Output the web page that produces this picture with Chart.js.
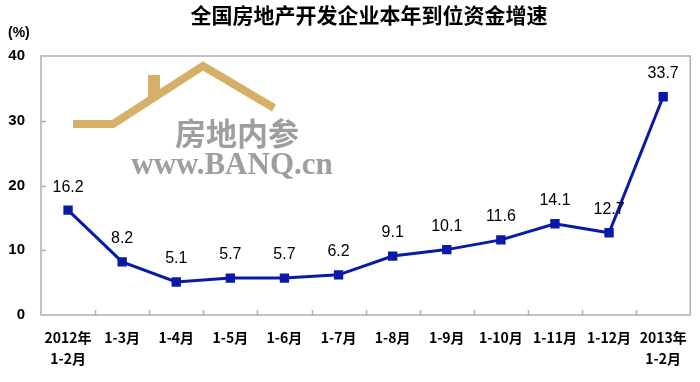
<!DOCTYPE html>
<html>
<head>
<meta charset="utf-8">
<script src="https://cdn.jsdelivr.net/npm/chart.js@4"></script>
<style>
  body { margin: 0; background: #fff; }
  #wrap { width: 700px; height: 382px; }
</style>
</head>
<body>
<div id="wrap"><canvas id="myChart" width="700" height="382"></canvas></div>
<script>
// data
var labels = [["2012年", "1-2月"], "1-3月", "1-4月", "1-5月", "1-6月", "1-7月", "1-8月", "1-9月", "1-10月", "1-11月", "1-12月", ["2013年", "1-2月"]];
var growth = [16.2, 8.2, 5.1, 5.7, 5.7, 6.2, 9.1, 10.1, 11.6, 14.1, 12.7, 33.7];
var yTicks = [0, 10, 20, 30, 40];
var titleText = "全国房地产开发企业本年到位资金增速";
var unitText = "(%)";

var cjk = '"Noto Sans CJK SC", "Liberation Sans", sans-serif';
var lineColor = '#0a1aa8';

// frame, inside tick marks, title, watermark and value labels
var extras = {
    id: 'extras',
    beforeDatasetsDraw: function(chart) {
        let ctx = chart.ctx;
        let a = chart.chartArea;
        ctx.save();
        // watermark roof
        ctx.strokeStyle = '#d6b068';
        ctx.lineWidth = 8;
        ctx.lineJoin = 'miter';
        ctx.beginPath();
        ctx.moveTo(73, 124);
        ctx.lineTo(113, 124);
        ctx.lineTo(203, 66);
        ctx.lineTo(274, 108);
        ctx.stroke();
        ctx.fillStyle = '#d6b068';
        ctx.fillRect(148, 75, 12, 22);
        // watermark text
        ctx.fillStyle = '#9e9e9e';
        ctx.textAlign = 'center';
        ctx.textBaseline = 'middle';
        ctx.font = 'bold 31px "Noto Sans CJK SC"';
        ctx.fillText("房地内参", 237, 133);
        ctx.font = 'bold 31px "Liberation Serif"';
        ctx.fillText("www.BANQ.cn", 232, 166);

        // frame
        ctx.strokeStyle = '#b0b0b0';
        ctx.lineWidth = 1.5;
        ctx.strokeRect(a.left, a.top, a.right - a.left, a.bottom - a.top);
        // inside tick marks
        let x = chart.scales.x;
        let y = chart.scales.y;
        let w = (a.right - a.left) / labels.length;
        ctx.beginPath();
        for (let i = 1; i < labels.length; i++) {
            let px = Math.round(x.getPixelForValue(i) - w / 2) + 0.5;
            ctx.moveTo(px, a.bottom);
            ctx.lineTo(px, a.bottom - 5);
        }
        for (let i = 1; i < yTicks.length - 1; i++) {
            let py = Math.round(y.getPixelForValue(yTicks[i])) + 0.5;
            ctx.moveTo(a.left, py);
            ctx.lineTo(a.left + 5, py);
        }
        ctx.stroke();

        // title and unit
        ctx.fillStyle = '#000';
        ctx.textAlign = 'center';
        ctx.font = 'bold 21px ' + cjk;
        ctx.fillText(titleText, 369, 15);
        ctx.textAlign = 'left';
        ctx.font = 'bold 14px "Liberation Sans"';
        ctx.fillText(unitText, 8, 33);
        ctx.restore();
    },
    afterDatasetsDraw: function(chart) {
        let ctx = chart.ctx;
        let meta = chart.getDatasetMeta(0);
        ctx.save();
        ctx.fillStyle = '#000';
        ctx.font = '16px "Liberation Sans"';
        ctx.textAlign = 'center';
        ctx.textBaseline = 'middle';
        meta.data.forEach(function(pt, i) {
            ctx.fillText(growth[i].toFixed(1), pt.x, pt.y - 23);
        });
        ctx.restore();
    }
};

let ctx = document.getElementById('myChart').getContext('2d');
let chart = new Chart(ctx, {
    type: 'line',
    data: {
        labels: labels,
        datasets: [{
            data: growth,
            borderColor: lineColor,
            backgroundColor: lineColor,
            borderWidth: 3,
            pointStyle: 'rect',
            pointRadius: 4.5,
            pointHoverRadius: 4.5,
            tension: 0
        }]
    },
    options: {
        responsive: false,
        animation: false,
        layout: { padding: { top: 56, right: 7, left: 8, bottom: 0 } },
        plugins: {
            legend: { display: false },
            tooltip: { enabled: false }
        },
        scales: {
            x: {
                offset: true,
                afterFit: function(axis) {
                    axis.height = 67;
                },
                grid: { display: false, drawTicks: false },
                border: { display: false },
                ticks: {
                    color: '#000',
                    font: { family: cjk, size: 14, weight: 'bold', lineHeight: 1.45 },
                    maxRotation: 0,
                    autoSkip: false,
                    padding: 13
                }
            },
            y: {
                min: 0,
                max: 40,
                afterBuildTicks: function(axis) {
                    axis.ticks = yTicks.map(function(v) { return { value: v }; });
                },
                afterFit: function(axis) {
                    axis.width = 33;
                },
                grid: { display: false, drawTicks: false },
                border: { display: false },
                ticks: {
                    color: '#000',
                    font: { family: '"Liberation Sans"', size: 15, weight: 'bold' },
                    padding: 16
                }
            }
        }
    },
    plugins: [extras]
});
</script>
</body>
</html>
